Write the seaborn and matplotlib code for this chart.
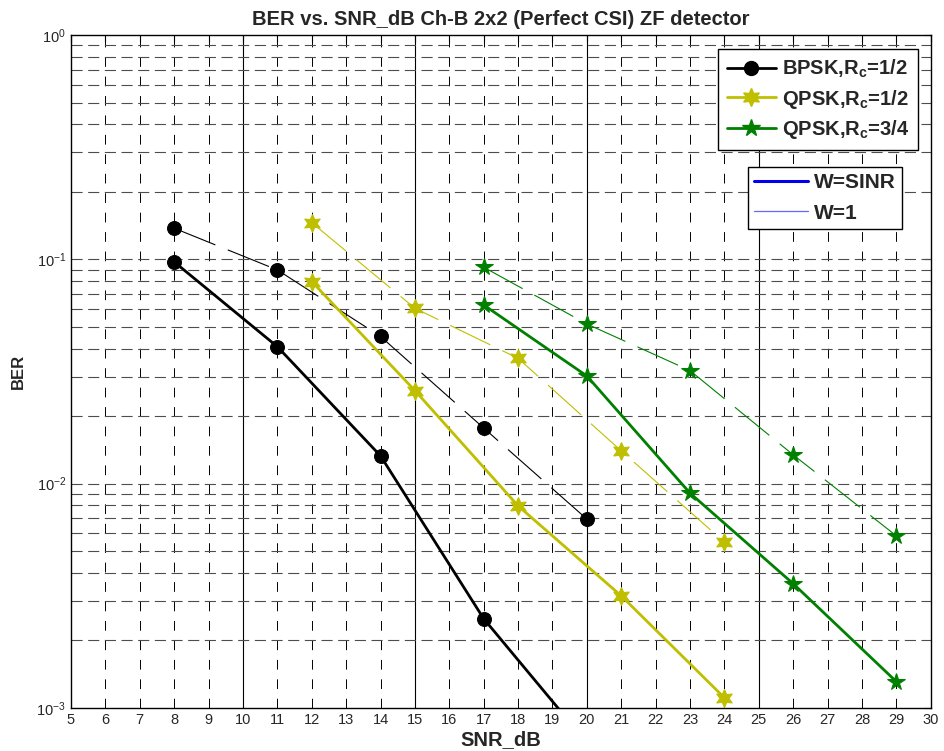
import numpy as np
import pandas as pd
import matplotlib
matplotlib.use('Agg')
import matplotlib.pyplot as plt
from matplotlib.lines import Line2D
from matplotlib.ticker import LogLocator, FixedLocator
import seaborn as sns

# data
snr_bpsk = [8, 11, 14, 17, 20]
ber_bpsk_sinr = [0.0974, 0.0408, 0.0133, 0.0025, 0.0007]
ber_bpsk_one = [0.1376, 0.0897, 0.0453, 0.0177, 0.00695]

snr_qpsk12 = [12, 15, 18, 21, 24]
ber_qpsk12_sinr = [0.0796, 0.0260, 0.00796, 0.00316, 0.00111]
ber_qpsk12_one = [0.1458, 0.0605, 0.0362, 0.0140, 0.00548]

snr_qpsk34 = [17, 20, 23, 26, 29]
ber_qpsk34_sinr = [0.0626, 0.0302, 0.00907, 0.00358, 0.00131]
ber_qpsk34_one = [0.0922, 0.0515, 0.0319, 0.01344, 0.00585]

labels = ['BPSK,R$_\\mathbf{c}$=1/2', 'QPSK,R$_\\mathbf{c}$=1/2', 'QPSK,R$_\\mathbf{c}$=3/4']
colors = ['black', '#BFBF00', '#008000']
markers = ['o', (6, 1, 0), '*']
msizes = [10, 13, 13]

sns.set_style('white')
plt.rcParams['font.family'] = ['Liberation Sans', 'DejaVu Sans']
plt.rcParams['mathtext.fontset'] = 'custom'
plt.rcParams['mathtext.rm'] = 'Liberation Sans'
plt.rcParams['mathtext.bf'] = 'Liberation Sans:bold'

fig = plt.figure(figsize=(9.44, 7.51), dpi=100)
ax = fig.add_axes([0.0752, 0.0573, 0.986 - 0.0752, 0.9534 - 0.0573])

ax.set_yscale('log')
ax.set_xlim(5, 30)
ax.set_ylim(1e-3, 1)

# grid: dashed at every integer / every log minor tick, solid at 10,15,20,25
for xv in range(6, 30):
    if xv % 5 == 0:
        ax.axvline(xv, color='black', lw=0.8, zorder=1)
    else:
        ax.axvline(xv, color='black', lw=0.7, ls=(0, (10, 10)), zorder=1)
for dec in [1e-3, 1e-2, 1e-1]:
    for m in range(1, 10):
        yv = dec * m
        if 1e-3 < yv < 1:
            ax.axhline(yv, color='#4d4d4d', lw=0.8, ls=(0, (10, 5)), zorder=1)

series = [
    (snr_bpsk, ber_bpsk_sinr, ber_bpsk_one),
    (snr_qpsk12, ber_qpsk12_sinr, ber_qpsk12_one),
    (snr_qpsk34, ber_qpsk34_sinr, ber_qpsk34_one),
]
for (snr, sinr, one), c, mk, ms in zip(series, colors, markers, msizes):
    df = pd.DataFrame({'SNR': snr, 'sinr': sinr, 'one': one})
    sns.lineplot(data=df, x='SNR', y='sinr', ax=ax, color=c, lw=2.0,
                 marker=mk, markersize=ms, markeredgecolor=c, zorder=4)
    sns.lineplot(data=df, x='SNR', y='one', ax=ax, color=c, lw=0.8,
                 dashes=False, linestyle=(0, (40, 12)), marker=mk,
                 markersize=ms, markeredgecolor=c, zorder=3)

ax.xaxis.set_major_locator(FixedLocator(range(5, 31)))
ax.yaxis.set_major_locator(LogLocator(base=10, numticks=10))
ax.yaxis.set_minor_locator(LogLocator(base=10, subs=np.arange(2, 10), numticks=10))
ax.tick_params(axis='both', which='both', direction='in', top=True, right=True,
               labelsize=10.5, color='black')
ax.tick_params(axis='both', which='major', length=5)
ax.tick_params(axis='y', which='minor', length=3)
for s in ax.spines.values():
    s.set_color('black')
    s.set_linewidth(1.0)

ax.set_xlabel('SNR_dB', fontsize=14.5, fontweight='bold', labelpad=2)
ax.set_ylabel('BER', fontsize=12, fontweight='bold', labelpad=8)
ax.set_title('BER vs. SNR_dB Ch-B 2x2 (Perfect CSI) ZF detector',
             fontsize=14.5, fontweight='bold', pad=7)

h1 = [Line2D([], [], color=c, lw=2.0, marker=mk, markersize=ms, markeredgecolor=c)
      for c, mk, ms in zip(colors, markers, msizes)]
leg1 = ax.legend(h1, labels, loc='upper right', bbox_to_anchor=(0.985, 0.979),
                 borderaxespad=0, prop={'size': 14.5, 'weight': 'bold'},
                 frameon=True, fancybox=False, edgecolor='black', framealpha=1,
                 handlelength=2.4, handletextpad=0.3, borderpad=0.45,
                 labelspacing=0.35)
leg1.get_frame().set_linewidth(1.0)
ax.add_artist(leg1)

h2 = [Line2D([], [], color='#0000EE', lw=2.2),
      Line2D([], [], color='#6666FF', lw=0.9)]
leg2 = ax.legend(h2, ['W=SINR', 'W=1'], loc='upper right', bbox_to_anchor=(0.967, 0.804),
                 borderaxespad=0, prop={'size': 15, 'weight': 'bold'},
                 frameon=True, fancybox=False, edgecolor='black', framealpha=1,
                 handlelength=2.6, handletextpad=0.3, borderpad=0.3,
                 labelspacing=0.55)
leg2.get_frame().set_linewidth(1.0)

fig.savefig('out.png', dpi=100)
